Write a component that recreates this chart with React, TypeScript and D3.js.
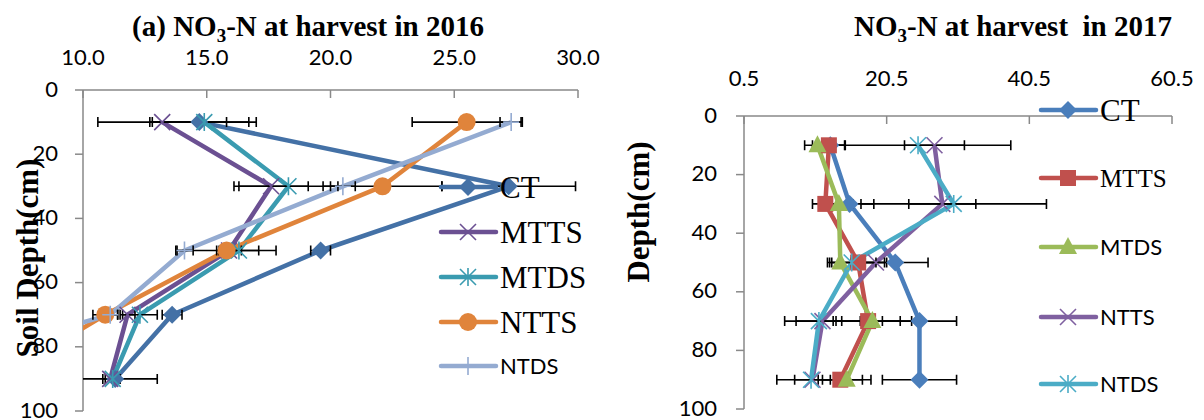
import React from "react";
import * as d3 from "d3";

const depths = [10, 30, 50, 70, 90];
const depthTicks = [0, 20, 40, 60, 80, 100];
const seriesNames = ["CT", "MTTS", "MTDS", "NTTS", "NTDS"];

// 2016 panel
const xTicks2016 = [10, 15, 20, 25, 30];
const ct2016 = [14.7, 27.2, 19.6, 13.6, 11.3];
const mtts2016 = [13.2, 17.6, 15.9, 11.8, 11.1];
const mtds2016 = [14.9, 18.3, 16.3, 12.3, 11.2];
const ntts2016 = [25.5, 22.1, 15.8, 10.9, 6.6];
const ntds2016 = [27.3, 20.5, 14.1, 11.1, 1.8];
const ct2016Err = [2.0, 2.7, 0.4, 0.4, 1.7];
const mtts2016Err = [2.6, 1.5, 0.5, 0.3, 0.3];
const mtds2016Err = [2.1, 2.0, 0.8, 0.7, 0.3];
const ntts2016Err = [2.2, 2.4, 2.0, 0.5, 0.5];
const ntds2016Err = [0.45, 0.5, 0.35, 0.3, 0.3];

// 2017 panel
const xTicks2017 = [0.5, 20.5, 40.5, 60.5];
const ct2017 = [12.6, 15.3, 21.7, 25.1, 25.1];
const mtts2017 = [12.4, 11.9, 16.5, 17.9, 14.0];
const mtds2017 = [10.8, 13.8, 14.0, 18.5, 14.9];
const ntts2017 = [27.2, 28.3, 19.0, 11.5, 10.1];
const ntds2017 = [24.9, 29.9, 15.6, 11.0, 9.9];
const ct2017Err = [2.0, 3.4, 4.6, 5.2, 5.2];
const mtts2017Err = [2.3, 1.8, 3.7, 4.5, 3.1];
const mtds2017Err = [1.8, 2.0, 1.5, 5.5, 3.4];
const ntts2017Err = [4.2, 4.7, 1.5, 5.3, 2.5];
const ntds2017Err = [13, 13, 3.4, 3.2, 4.8];

const SERIF = "'Liberation Serif', 'Times New Roman', serif";
const SANS = "Lato, 'Open Sans', sans-serif";
const AXIS = "#898989";

function Marker({ type, x, y, color }) {
  const t = `translate(${x},${y})`;
  if (type === "diamond") return <path transform={t} d="M0,-9L9,0L0,9L-9,0Z" fill={color} />;
  if (type === "circle") return <circle cx={x} cy={y} r={9} fill={color} />;
  if (type === "square") return <rect x={x - 8} y={y - 8} width={16} height={16} fill={color} />;
  if (type === "triangle") return <path transform={t} d="M0,-10L9,7L-9,7Z" fill={color} />;
  const parts = [];
  if (type === "x" || type === "star") parts.push("M-8,-8L8,8M-8,8L8,-8");
  if (type === "star" || type === "plus") parts.push("M0,-9L0,9");
  if (type === "plus") parts.push("M-8,0L8,0");
  return <path transform={t} d={parts.join("")} stroke={color} strokeWidth={1.6} fill="none" />;
}

function Panel({ id, x, y, ticks, series, legend, legendX, title, yTitle, yTitlePos, xLabelY, yLabelX }) {
  const [x0, x1] = x.range();
  const [y0, y1] = y.range();
  const line = d3
    .line()
    .x((d) => x(d[0]))
    .y((d) => y(d[1]));
  return (
    <g>
      <defs>
        <clipPath id={id}>
          <rect x={x0} y={y0 - 12} width={x1 - x0 + 40} height={y1 - y0 + 12} />
        </clipPath>
      </defs>
      {/* axes */}
      <line x1={x0} x2={x1} y1={y0} y2={y0} stroke={AXIS} strokeWidth={1.5} />
      <line x1={x0} x2={x0} y1={y0} y2={y1} stroke={AXIS} strokeWidth={1.5} />
      {ticks.map((t) => (
        <g key={t}>
          <line x1={x(t)} x2={x(t)} y1={y0} y2={y0 + 8} stroke={AXIS} strokeWidth={1.5} />
          <text x={x(t)} y={xLabelY} textAnchor="middle" fontFamily={SANS} fontSize={22}>
            {d3.format(".1f")(t)}
          </text>
        </g>
      ))}
      {depthTicks.map((t) => (
        <g key={t}>
          <line x1={x0 - 8} x2={x0} y1={y(t)} y2={y(t)} stroke={AXIS} strokeWidth={1.5} />
          <text x={yLabelX} y={y(t)} dy="0.3em" textAnchor="end" fontFamily={SANS} fontSize={22}>
            {t}
          </text>
        </g>
      ))}
      <g clipPath={`url(#${id})`}>
        {series.map((s) => (
          <path
            key={s.name}
            d={line(s.values.map((v, i) => [v, depths[i]]))}
            fill="none"
            stroke={s.color}
            strokeWidth={4.5}
            strokeLinejoin="round"
          />
        ))}
        {series.map((s) =>
          s.values.map((v, i) => {
            const yy = y(depths[i]);
            const a = x(v - s.err[i]);
            const b = x(v + s.err[i]);
            return (
              <path
                key={s.name + i}
                d={`M${a},${yy}H${b}M${a},${yy - 5}V${yy + 5}M${b},${yy - 5}V${yy + 5}`}
                stroke="#000"
                strokeWidth={1.6}
                fill="none"
              />
            );
          })
        )}
        {series.map((s) =>
          s.values.map((v, i) => (
            <Marker key={s.name + "m" + i} type={s.marker} x={x(v)} y={y(depths[i])} color={s.color} />
          ))
        )}
      </g>
      {/* legend */}
      {series.map((s, i) => {
        const l = legend[i];
        return (
          <g key={s.name}>
            <line x1={legendX} x2={legendX + 55} y1={l.y} y2={l.y} stroke={s.color} strokeWidth={4.5} strokeLinecap="round" />
            <Marker type={s.marker} x={legendX + 27} y={l.y} color={s.color} />
            <text x={legendX + 59} y={l.y} dy="0.35em" fontFamily={l.serif ? SERIF : SANS} fontSize={l.size}>
              {s.name}
            </text>
          </g>
        );
      })}
      <text
        x={title.x}
        y={title.y}
        textAnchor="middle"
        fontFamily={SERIF}
        fontWeight="bold"
        fontSize={29}
        style={{ whiteSpace: "pre" }}
      >
        {title.pre}NO
        <tspan fontSize={19} dy={6}>
          3
        </tspan>
        <tspan dy={-6}>{title.post}</tspan>
      </text>
      <text
        transform={`translate(${yTitlePos[0]},${yTitlePos[1]}) rotate(-90)`}
        textAnchor="middle"
        dy="0.35em"
        fontFamily={SERIF}
        fontWeight="bold"
        fontSize={31}
      >
        {yTitle}
      </text>
    </g>
  );
}

export default function App() {
  const x16 = d3.scaleLinear().domain([10, 30]).range([83, 578]);
  const y16 = d3.scaleLinear().domain([0, 100]).range([90, 411]);
  const x17 = d3.scaleLinear().domain([0.5, 60.5]).range([744, 1172]);
  const y17 = d3.scaleLinear().domain([0, 100]).range([116, 409]);

  const left = [
    { values: ct2016, err: ct2016Err, color: "#4471A6", marker: "diamond" },
    { values: mtts2016, err: mtts2016Err, color: "#6B5092", marker: "x" },
    { values: mtds2016, err: mtds2016Err, color: "#3A9BB0", marker: "star" },
    { values: ntts2016, err: ntts2016Err, color: "#E0843B", marker: "circle" },
    { values: ntds2016, err: ntds2016Err, color: "#94ABD1", marker: "plus" },
  ].map((s, i) => ({ ...s, name: seriesNames[i] }));

  const right = [
    { values: ct2017, err: ct2017Err, color: "#4A7EBB", marker: "diamond" },
    { values: mtts2017, err: mtts2017Err, color: "#C0504D", marker: "square" },
    { values: mtds2017, err: mtds2017Err, color: "#9BBB59", marker: "triangle" },
    { values: ntts2017, err: ntts2017Err, color: "#7F60A0", marker: "x" },
    { values: ntds2017, err: ntds2017Err, color: "#4BACC6", marker: "star" },
  ].map((s, i) => ({ ...s, name: seriesNames[i] }));

  const legendLeft = [
    { y: 187, serif: true, size: 31 },
    { y: 232, serif: true, size: 31 },
    { y: 277, serif: true, size: 31 },
    { y: 322, serif: true, size: 31 },
    { y: 366, serif: false, size: 22 },
  ];
  const legendRight = [
    { y: 110, serif: true, size: 31 },
    { y: 178, serif: true, size: 25 },
    { y: 247, serif: false, size: 22 },
    { y: 317, serif: false, size: 22 },
    { y: 384, serif: false, size: 22 },
  ];

  return (
    <svg width={1204} height={420} style={{ position: "absolute", left: 0, top: 0, background: "#fff" }}>
      <Panel
        id="clip2016"
        x={x16}
        y={y16}
        ticks={xTicks2016}
        series={left}
        legend={legendLeft}
        legendX={441}
        title={{ x: 308, y: 36, pre: "(a) ", post: "-N at harvest in 2016" }}
        yTitle="Soil Depth(cm)"
        yTitlePos={[27, 258]}
        xLabelY={65}
        yLabelX={58}
      />
      <Panel
        id="clip2017"
        x={x17}
        y={y17}
        ticks={xTicks2017}
        series={right}
        legend={legendRight}
        legendX={1041}
        title={{ x: 1013, y: 36, pre: "", post: "-N at harvest  in 2017" }}
        yTitle="Depth(cm)"
        yTitlePos={[638, 212]}
        xLabelY={86}
        yLabelX={717}
      />
    </svg>
  );
}
